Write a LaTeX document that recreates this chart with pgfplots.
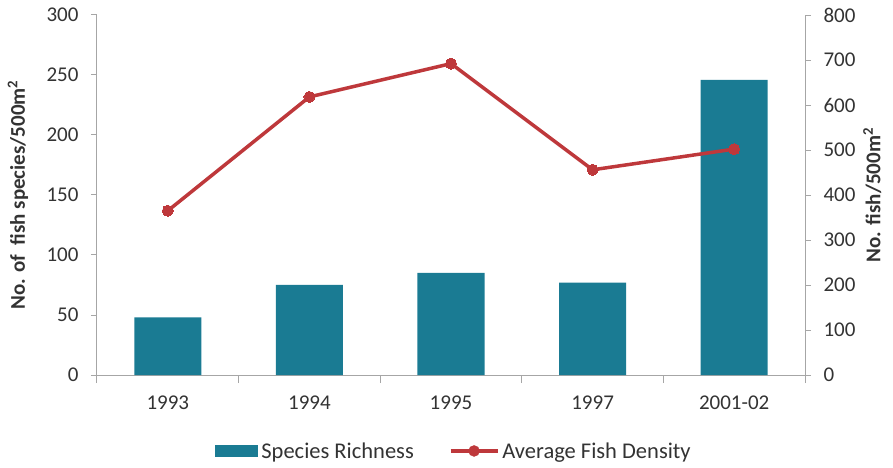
\documentclass[border=0pt]{standalone}
\usepackage{pgfplots}
\pgfplotsset{compat=1.18}
\usepackage{pgfplotstable}
\usepackage{fontspec}
\setmainfont{Carlito}

\definecolor{barteal}{HTML}{1A7B93}
\definecolor{linered}{HTML}{BE383B}
\definecolor{axisgray}{HTML}{A6A6A6}
\definecolor{txt}{HTML}{333333}

% survey year index, species richness, average fish density
\pgfplotstableread{
idx rich dens
0   48   365
1   75   618
2   85   692
3   77   456
4   246  502
}\surveydata

\newcommand{\labelfont}{\fontsize{21bp}{25bp}\selectfont\bfseries}

\pgfplotsset{
  basechart/.style={
    scale only axis, width=708bp, height=360bp,
    xmin=-0.5, xmax=4.5,
    font=\fontsize{21bp}{25bp}\selectfont,
    /pgf/number format/assume math mode=true,
    tick align=outside,
    axis line style={axisgray, line width=1bp, -},
    every tick/.style={axisgray, line width=1bp},
    major tick length=6bp,
    minor tick length=8bp,
    tick label style={text=txt},
  },
}

\begin{document}
\begin{tikzpicture}
% species richness (left axis)
\begin{axis}[
  basechart,
  axis x line*=bottom, axis y line*=left,
  ymin=0, ymax=300, ytick={0,50,...,300},
  xtick={0,...,4},
  xticklabels={1993,1994,1995,1997,2001-02},
  major x tick style={draw=none},
  minor xtick={-0.5,0.5,...,4.5},
  xticklabel style={yshift=-11bp},
  yticklabel style={xshift=-9bp},
  ylabel={\labelfont No. of\ \ fish species/500m\textsuperscript{2}},
  every axis y label/.style={at={(axis description cs:-0.1116,0.5)}, anchor=center, rotate=90, text=txt},
  legend columns=2,
  legend style={
    at={(axis description cs:0.505,-0.211)}, anchor=center,
    draw=none, fill=none, font=\fontsize{22.5bp}{26bp}\selectfont, text=txt,
    /tikz/every even column/.append style={column sep=32bp},
    nodes={inner sep=3bp},
  },
]
\addplot[ybar, bar width=67bp, fill=barteal, draw=none,
  legend image code/.code={\fill[barteal] (0bp,-6bp) rectangle (43bp,6bp);}]
  table[x=idx, y=rich] {\surveydata};
\addlegendentry{Species Richness}
\addlegendimage{legend image code/.code={
  \draw[linered, line width=3.5bp] (0bp,0bp) -- (47bp,0bp);
  \fill[linered] (23.5bp,0bp) circle (5.5bp);}}
\addlegendentry{Average Fish Density}
\end{axis}
% average fish density (right axis)
\begin{axis}[
  basechart,
  axis x line=none, axis y line*=right,
  ymin=0, ymax=800, ytick={0,100,...,800},
  yticklabel style={xshift=9bp},
  ylabel={\labelfont No. fish/500m\textsuperscript{2}},
  every axis y label/.style={at={(axis description cs:1.095,0.5)}, anchor=center, rotate=90, text=txt},
]
\addplot[linered, line width=3.5bp, mark=*, mark size=5.5bp,
  mark options={fill=linered, draw=linered, line width=0bp}]
  table[x=idx, y=dens] {\surveydata};
\end{axis}
\pgfresetboundingbox
\path[use as bounding box] (-97bp,-93bp) rectangle (796bp,375bp);
\end{tikzpicture}
\end{document}
